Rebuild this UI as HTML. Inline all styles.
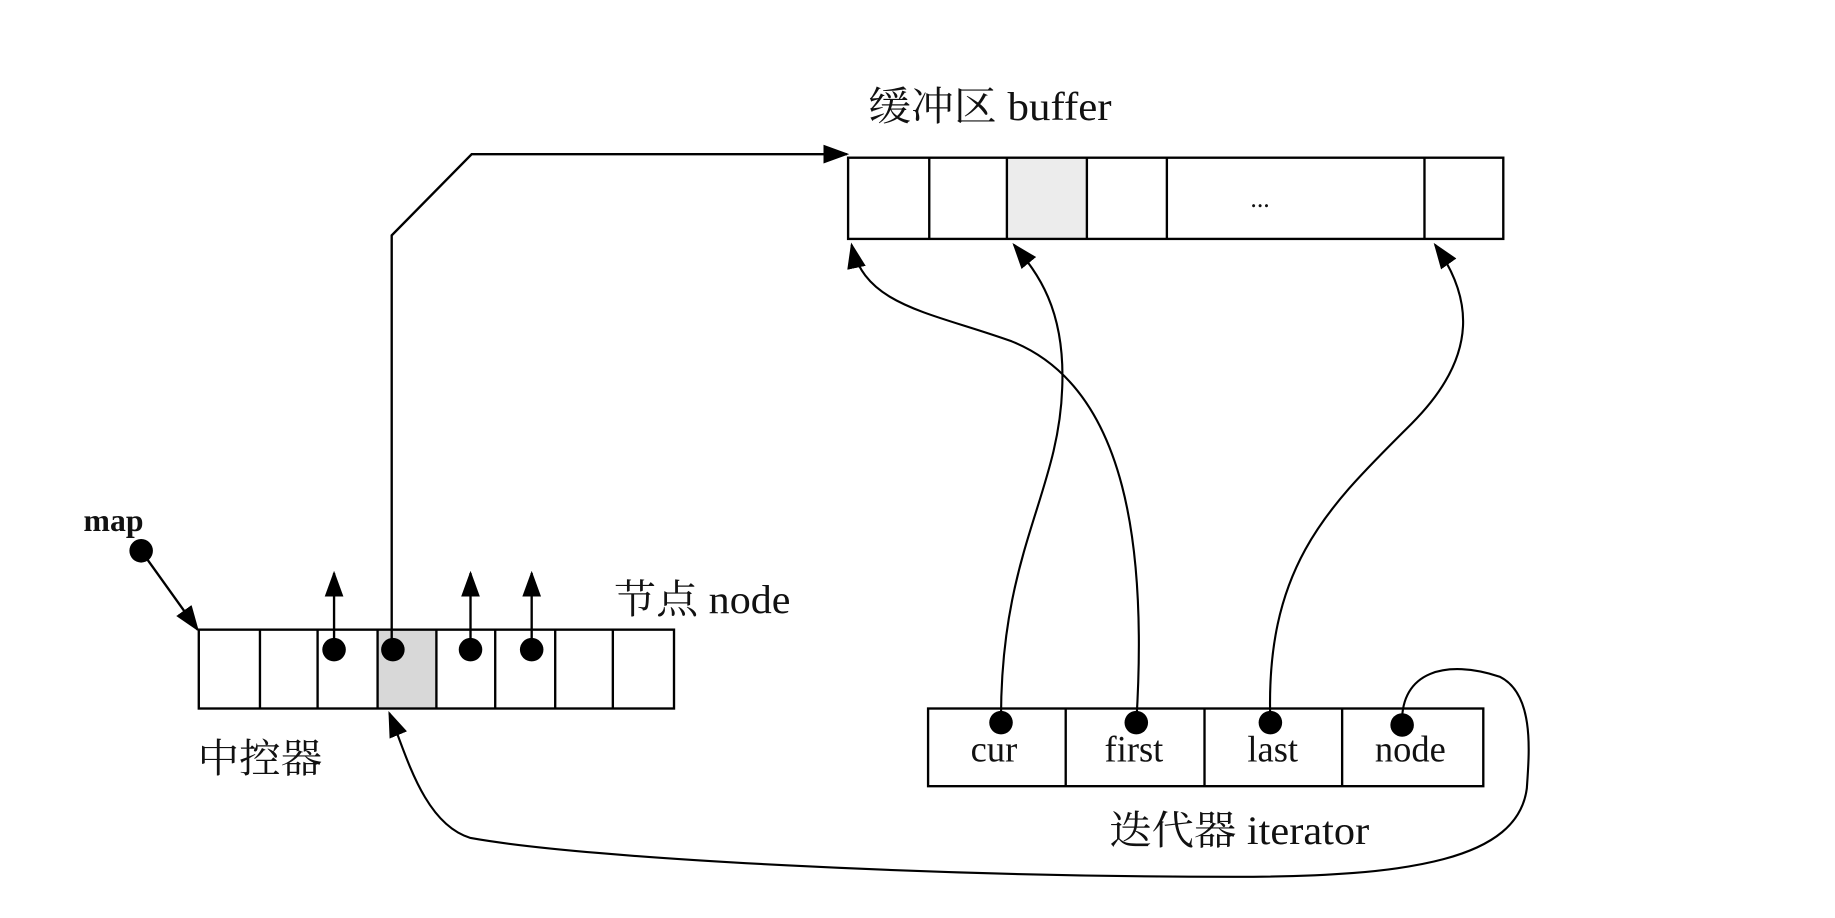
<!DOCTYPE html>
<html><head><meta charset="utf-8"><style>
html,body{margin:0;padding:0;background:#fff;}
svg{display:block}
text{font-family:"Liberation Serif","Noto Serif CJK SC",serif;fill:#111}
</style></head><body>
<svg width="1835" height="918" viewBox="0 0 1560 780" preserveAspectRatio="none">
<defs>
<marker id="a2" markerWidth="22" markerHeight="22" refX="20" refY="11" orient="auto" markerUnits="userSpaceOnUse" viewBox="0 0 22 22">
<path d="M0,3 L22,11 L0,19 z" fill="#000"/></marker>
</defs>
<g stroke="#000" stroke-width="2" fill="none">
<rect x="856" y="134" width="68" height="69" fill="#ececec" stroke="none"/>
<rect x="721" y="134" width="557" height="69"/>
<line x1="790" y1="134" x2="790" y2="203"/><line x1="856" y1="134" x2="856" y2="203"/>
<line x1="924" y1="134" x2="924" y2="203"/><line x1="992" y1="134" x2="992" y2="203"/>
<line x1="1211" y1="134" x2="1211" y2="203"/>
<rect x="321" y="535" width="50" height="67" fill="#d8d8d8" stroke="none"/>
<rect x="169" y="535" width="404" height="67"/>
<line x1="221" y1="535" x2="221" y2="602"/><line x1="270" y1="535" x2="270" y2="602"/>
<line x1="321" y1="535" x2="321" y2="602"/><line x1="371" y1="535" x2="371" y2="602"/>
<line x1="421" y1="535" x2="421" y2="602"/><line x1="472" y1="535" x2="472" y2="602"/>
<line x1="521" y1="535" x2="521" y2="602"/>
<rect x="789" y="602" width="472" height="66"/>
<line x1="906" y1="602" x2="906" y2="668"/><line x1="1024" y1="602" x2="1024" y2="668"/>
<line x1="1141" y1="602" x2="1141" y2="668"/>
<path d="M333,552 L333,200 L401,131 L720,131" marker-end="url(#a2)"/>
<path d="M284,552 L284,487" marker-end="url(#a2)"/>
<path d="M400,552 L400,487" marker-end="url(#a2)"/>
<path d="M452,552 L452,487" marker-end="url(#a2)"/>
<path d="M120,468 L168,535" marker-end="url(#a2)"/>
<path d="M851,614 C850,470 900,420 903,330 C906,260 880,230 862,208" stroke-width="1.8" marker-end="url(#a2)"/>
<path d="M966,614 C975,470 960,330 860,290 C790,265 735,260 724,208" stroke-width="1.8" marker-end="url(#a2)"/>
<path d="M1080,614 C1075,480 1130,430 1200,360 C1260,300 1250,250 1220,208" stroke-width="1.8" marker-end="url(#a2)"/>
<path d="M1192,616 C1190,570 1230,560 1275,575 C1305,590 1300,640 1298,670 C1290,730 1200,745 1050,745 C800,745 500,730 400,712 C360,700 345,640 331,606" stroke-width="1.8" marker-end="url(#a2)"/>
</g>
<g fill="#000">
<circle cx="284" cy="552" r="10"/><circle cx="334" cy="552" r="10"/>
<circle cx="400" cy="552" r="10"/><circle cx="452" cy="552" r="10"/>
<circle cx="120" cy="468" r="10"/>
<circle cx="851" cy="614" r="10"/><circle cx="966" cy="614" r="10"/>
<circle cx="1080" cy="614" r="10"/><circle cx="1192" cy="616" r="10"/>
</g>
<text x="738" y="102" font-size="34" textLength="207" lengthAdjust="spacingAndGlyphs">缓冲区 buffer</text>
<text x="1063" y="176" font-size="22">...</text>
<text x="71" y="451" font-size="27" font-weight="bold">map</text>
<text x="522" y="521" font-size="34" textLength="150" lengthAdjust="spacingAndGlyphs">节点 node</text>
<text x="168" y="656" font-size="34" textLength="106" lengthAdjust="spacingAndGlyphs">中控器</text>
<text x="845" y="647" font-size="31" text-anchor="middle">cur</text>
<text x="964" y="647" font-size="31" text-anchor="middle">first</text>
<text x="1082" y="647" font-size="31" text-anchor="middle">last</text>
<text x="1199" y="647" font-size="31" text-anchor="middle">node</text>
<text x="943" y="717" font-size="34" textLength="221" lengthAdjust="spacingAndGlyphs">迭代器 iterator</text>
</svg>
</body></html>
